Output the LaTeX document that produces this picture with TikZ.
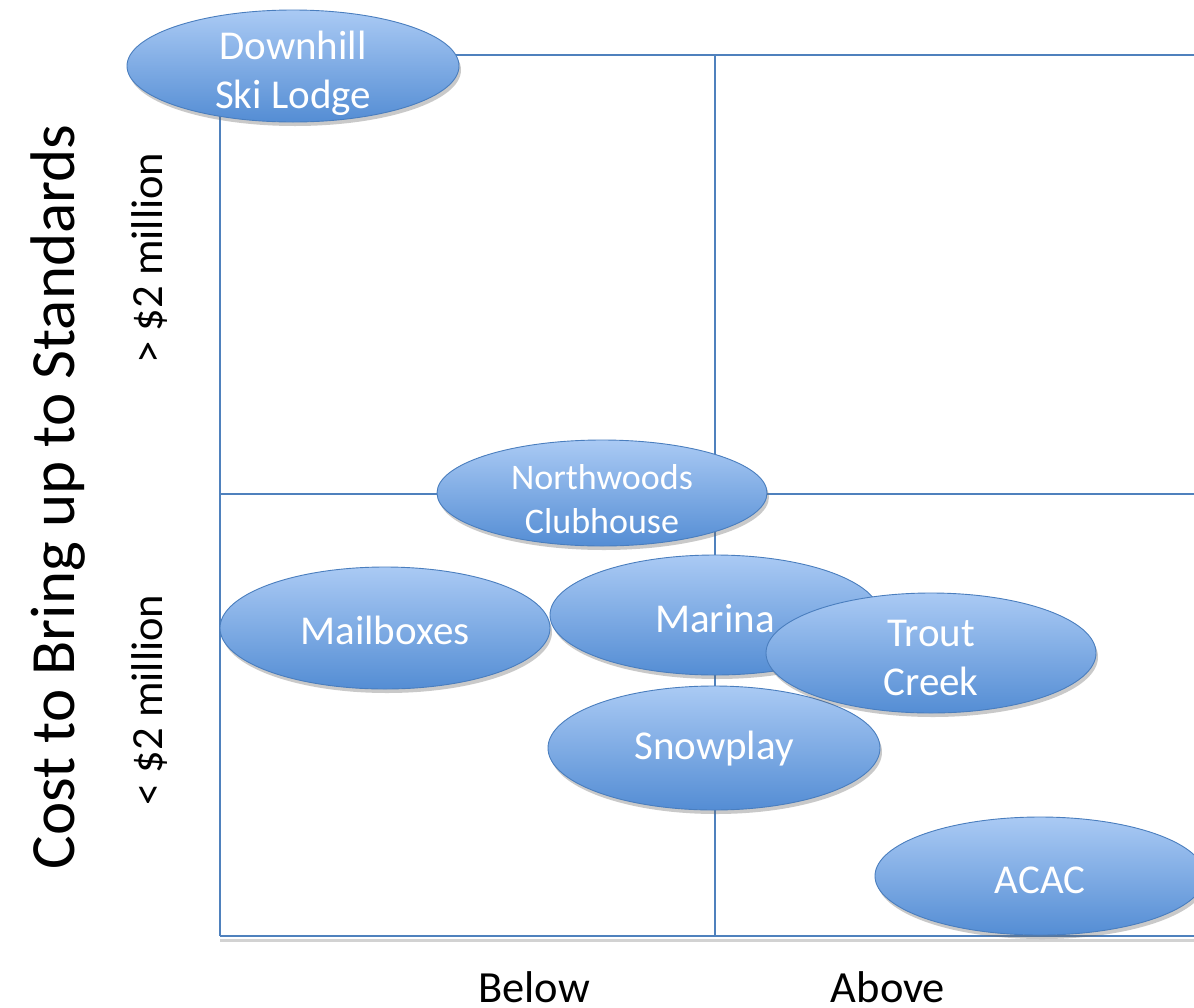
\documentclass[tikz,border=0pt]{standalone}
\usepackage{fontspec}
\setmainfont{Carlito}
\usetikzlibrary{shapes.geometric,shadows}
\definecolor{gridblue}{RGB}{79,129,189}
\definecolor{bubtop}{RGB}{170,202,244}
\definecolor{bubbot}{RGB}{84,141,212}
\definecolor{bubedge}{RGB}{74,126,190}
\tikzset{
  bubble/.style={ellipse, draw=bubedge, line width=0.9pt, top color=bubtop, bottom color=bubbot,
    inner sep=0pt,
    drop shadow={shadow xshift=2pt, shadow yshift=-4pt, opacity=0.35, fill=black!60}},
  btext/.style={text=white, align=center, inner sep=0pt, font=\fontsize{41}{49}\selectfont},
  grid/.style={draw=gridblue, line width=2pt},
  axislab/.style={font=\fontsize{44.5}{50}\selectfont, text=black},
}
\begin{document}
\begin{tikzpicture}[x=1pt,y=-1pt]
  \useasboundingbox (0,0) rectangle (1194,1007);
  \fill[white] (0,0) rectangle (1194,1007);
  % quadrant frame
  \draw[grid] (220,55) -- (1194,55);
  \draw[grid] (220,494) -- (1194,494);
  \draw[grid] (220,55) -- (220,936);
  \draw[grid] (715,55) -- (715,936);
  \draw[black!35, line width=3pt, opacity=0.5] (220,940) -- (1194,940);
  \draw[grid, line width=2.5pt] (220,936) -- (1194,936);
  % axis titles
  \node[rotate=90, font=\fontsize{63}{70}\selectfont] (ytitle) at (58,497) {Cost to Bring up to Standards};
  \node[rotate=90, axislab] (hi) at (150,258) {> \$2 million};
  \node[rotate=90, axislab] (lo) at (150,700) {< \$2 million};
  \node[axislab] (below) at (534,987) {Below};
  \node[axislab] (above) at (888,987) {Above};
  % facilities
  \node[bubble, minimum width=332pt, minimum height=112pt] (ski) at (293,66) {};
  \node[btext] (skit) at ([yshift=-7pt]ski.center) {Downhill\\Ski Lodge};
  \node[bubble, minimum width=330pt, minimum height=106pt] (north) at (602,493) {};
  \node[btext, font=\fontsize{36}{44}\selectfont] (northt) at ([yshift=-6pt]north.center) {Northwoods\\Clubhouse};
  \node[bubble, minimum width=330pt, minimum height=122pt] (mail) at (385,628) {};
  \node[btext] (mailt) at ([yshift=-2pt]mail.center) {Mailboxes};
  \node[bubble, minimum width=330pt, minimum height=120pt] (marina) at (715,615) {};
  \node[btext] (marinat) at ([yshift=-4pt]marina.center) {Marina};
  \node[bubble, minimum width=332pt, minimum height=124pt] (snow) at (714,748) {};
  \node[btext] (snowt) at ([yshift=-1pt]snow.center) {Snowplay};
  \node[bubble, minimum width=330pt, minimum height=120pt] (trout) at (931,653) {};
  \node[btext] (troutt) at ([yshift=-5pt]trout.center) {Trout\\Creek};
  \node[bubble, minimum width=330pt, minimum height=118pt] (acac) at (1040,876) {};
  \node[btext] (acact) at ([yshift=-4pt]acac.center) {ACAC};
\end{tikzpicture}
\end{document}
